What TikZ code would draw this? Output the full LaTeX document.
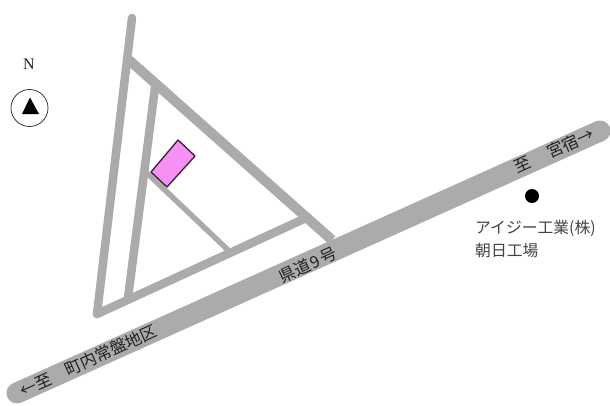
\documentclass[tikz,border=0pt]{standalone}
\usepackage{fontspec}
\setmainfont{Liberation Serif}
\newfontfamily\cjk{Noto Sans CJK JP}
\definecolor{roadgrey}{RGB}{172,170,170}
\definecolor{sitepink}{RGB}{245,145,245}
\definecolor{inkdark}{RGB}{35,32,32}
\tikzset{
 mainroad/.style={draw=roadgrey,line width=21pt,line cap=round},
 sideroad/.style={draw=roadgrey,line width=8.5pt,line cap=round,line join=round},
 thinroad/.style={draw=roadgrey,line width=5.5pt},
 roadlabel/.style={font=\cjk\fontsize{16.5}{16.5}\selectfont,text=inkdark,rotate=24.5,inner sep=0pt},
 plainlabel/.style={font=\cjk\fontsize{15.8}{18}\selectfont,text=inkdark!85,inner sep=0pt,anchor=west}
}
\begin{document}
\begin{tikzpicture}[x=1pt,y=-1pt]
\useasboundingbox (0,0) rectangle (610,405);
\coordinate (mainW) at (17,393);
\coordinate (mainE) at (600,131);
\coordinate (leftN) at (132,18);
\coordinate (apex) at (97,314);
\coordinate (diagN) at (129,60);
\coordinate (diagS) at (332,240);
\coordinate (baseE) at (306,218);
\coordinate (innerN) at (156,80);
\coordinate (innerS) at (128,298);
\coordinate (branchN) at (147,173);
\coordinate (branchS) at (228,250);
\coordinate (siteA) at (178,140);
\coordinate (siteB) at (195,156);
\coordinate (siteC) at (167,187);
\coordinate (siteD) at (151,172);
\draw[thinroad] (branchN) -- (branchS);
\draw[sideroad] (leftN) -- (apex) -- (baseE);
\draw[sideroad,line cap=butt] (innerN) -- (innerS);
\draw[sideroad,line width=10pt,line cap=butt] (diagN) -- (diagS);
\draw[mainroad] (mainW) -- (mainE);
\draw[draw=inkdark!90!magenta,line width=1.3pt,fill=sitepink,line join=round] (siteA) -- (siteB) -- (siteC) -- (siteD) -- cycle;
\node[font=\fontsize{16}{16}\selectfont,text=inkdark,inner sep=0pt] (north) at (29,64) {N};
\node[circle,draw=inkdark,line width=.7pt,minimum size=37pt,inner sep=0pt] (compass) at (29.5,108) {};
\fill[black] (30,97.5) -- (39,114) -- (22,114) -- cycle;
\node[circle,fill=black,minimum size=14pt,inner sep=0pt] (factory) at (532,196) {};
\node[roadlabel] (west) at (88.5,360.5) {←至\hspace{1em}町内常盤地区};
\node[roadlabel] (pref) at (308,265) {県道\hspace{.1em}9\hspace{.1em}号};
\node[roadlabel] (east) at (554,150.5) {至\hspace{1.2em}宮宿→};
\node[plainlabel] (name1) at (475,228) {アイジー工業(株)};
\node[plainlabel] (name2) at (475,251) {朝日工場};
\end{tikzpicture}
\end{document}
